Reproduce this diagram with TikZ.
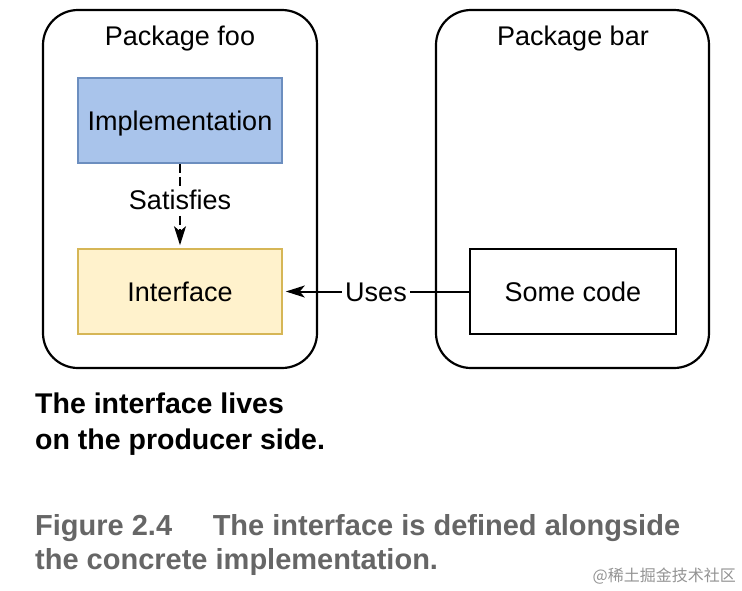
\documentclass[tikz,border=0pt]{standalone}
\usepackage{fontspec}
\setmainfont{Liberation Sans}
\newfontfamily\cjkfont{Noto Sans CJK SC}
\usepackage{xcolor}
\usepackage{tikz}
\usetikzlibrary{positioning,arrows.meta}
\definecolor{implfill}{RGB}{169,196,235}
\definecolor{impledge}{RGB}{108,142,191}
\definecolor{ifacefill}{RGB}{255,242,204}
\definecolor{ifaceedge}{RGB}{214,182,86}
\definecolor{capgray}{RGB}{102,102,102}
\tikzset{
    pkg/.style={draw, line width=2.2pt, rounded corners=35pt, minimum width=274pt, minimum height=358pt},
    diagtext/.style={font=\fontsize{27}{32}\selectfont, text height=19.5pt, text depth=0pt},
    box/.style={diagtext, draw, line width=1.6pt, minimum width=204pt, minimum height=85pt, inner sep=0pt},
    lbl/.style={diagtext, fill=white, inner sep=3pt},
    link/.style={line width=2pt, -{Stealth[length=19pt, width=12pt, inset=5pt]}, shorten >=3pt},
}

\begin{document}
\begin{tikzpicture}[x=1pt, y=-1pt]
    \useasboundingbox (0,0) rectangle (742,590);
    \node[pkg] (foo) at (180,189) {};
    \node[pkg, minimum width=273pt] (bar) at (572.5,189) {};
    \node[diagtext, anchor=base] (footitle) at (180,45) {Package foo};
    \node[diagtext, anchor=base] (bartitle) at (573,45) {Package bar};

    \node[box, fill=implfill, draw=impledge] (impl) at (180,120.5) {Implementation};
    \node[box, fill=ifacefill, draw=ifaceedge] (iface) at (180,291.5) {Interface};
    \node[box, minimum width=206pt] (code) at (573,291.5) {Some code};

    \draw[link, dash pattern=on 9pt off 4pt] (impl) -- node[lbl, pos=0.43] {Satisfies} (iface);
    \draw[link] (code) -- node[lbl] {Uses} (iface);

    \node[anchor=base west, inner sep=0pt, font=\fontsize{28.5}{34}\selectfont\bfseries] (note1) at (35,413) {The interface lives};
    \node[anchor=base west, inner sep=0pt, font=\fontsize{28.5}{34}\selectfont\bfseries] (note2) at (35,449) {on the producer side.};
    \node[anchor=base west, inner sep=0pt, text=capgray, font=\fontsize{29}{35}\selectfont\bfseries] (cap1) at (35,535) {Figure 2.4\hspace{1.4em}The interface is defined alongside};
    \node[anchor=base west, inner sep=0pt, text=capgray, font=\fontsize{29}{35}\selectfont\bfseries] (cap2) at (35,569) {the concrete implementation.};
    \node[anchor=east, inner sep=0pt, text=gray!85, font=\fontsize{16}{18}\selectfont\cjkfont] (mark) at (736,576) {@稀土掘金技术社区};
\end{tikzpicture}
\end{document}
